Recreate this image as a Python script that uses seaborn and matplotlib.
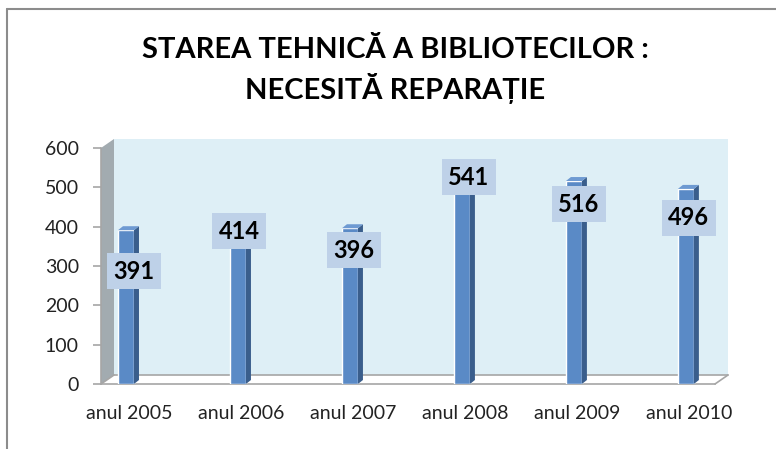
import numpy as np
import pandas as pd
import matplotlib
matplotlib.use('Agg')
import matplotlib.pyplot as plt
from matplotlib.patches import Polygon, Rectangle
from matplotlib.lines import Line2D
import seaborn as sns

# data
years = ['anul 2005', 'anul 2006', 'anul 2007', 'anul 2008', 'anul 2009', 'anul 2010']
values = [391, 414, 396, 541, 516, 496]
# how far (pixels) each value box sits below its bar top, as placed in the original
label_drop = [41, 10, 22, 6, 23, 29]
label_shift = [8, 1, 4, 7, 5, 3]

data = pd.DataFrame({'an': years, 'biblioteci': values})

sns.set_style('white')
plt.rcParams['font.family'] = ['Lato', 'DejaVu Sans']

fig = plt.figure(figsize=(7.76, 4.49), dpi=100)
W, H = 776, 449
# front plane of the 3D box
ax = fig.add_axes([101 / W, (H - 384) / H, 614 / W, 236 / H])
ax.set_facecolor('none')

front = '#5A8AC6'
side = '#3A5E8C'
top = '#6E9AD2'
grey = '#A6A6A6'

sns.barplot(data=data, x='an', y='biblioteci', color=front, width=0.143,
            saturation=1, ax=ax, zorder=3)

ax.set_xlim(-0.223, 5.26)
ax.set_ylim(0, 600)
ax.set_yticks(range(0, 601, 100))
ax.set_xlabel('')
ax.set_ylabel('')

# depth of the box, in axes fraction
dpx, dpy = 13, 9
ddx, ddy = dpx / 614, dpy / 236
wall = Rectangle((ddx, ddy), 1, 1, transform=ax.transAxes, facecolor='#DEEFF6',
                 edgecolor='none', zorder=0.2, clip_on=False)
ax.add_patch(wall)
left_wall = Polygon([(0, 0), (0, 1), (ddx, 1 + ddy), (ddx, ddy)], closed=True,
                    transform=ax.transAxes, facecolor='#A2ABB0', edgecolor='none',
                    zorder=0.3, clip_on=False)
ax.add_patch(left_wall)
for xs, ys in [([ddx, 1 + ddx], [ddy, ddy]), ([1, 1 + ddx], [0, ddy]), ([0, ddx], [0, ddy])]:
    ax.add_line(Line2D(xs, ys, transform=ax.transAxes, color=grey, lw=1.2,
                       zorder=0.4, clip_on=False))

# 3D sides and caps of the bars
inv = ax.transData.inverted()
origin = ax.transData.transform((0, 0))
sx, sy = inv.transform(origin + np.array([5, 4]))
for p in list(ax.patches):
    if p in (wall, left_wall):
        continue
    x0, w, h = p.get_x(), p.get_width(), p.get_height()
    x1 = x0 + w
    ax.add_patch(Polygon([(x1, 0), (x1, h), (x1 + sx, h + sy), (x1 + sx, sy)],
                         closed=True, facecolor=side, edgecolor='none', zorder=3))
    ax.add_patch(Polygon([(x0, h), (x1, h), (x1 + sx, h + sy), (x0 + sx, h + sy)],
                         closed=True, facecolor=top, edgecolor='none', zorder=3))

# value boxes
for i, v in enumerate(values):
    ax.annotate(str(v), xy=(i, v), xytext=(label_shift[i], -label_drop[i]),
                textcoords='offset pixels', ha='center', va='center',
                fontsize=17, fontweight='bold', color='black', zorder=5,
                bbox=dict(boxstyle='square,pad=0.28', facecolor='#BED1E8', edgecolor='none'))

# axes styling
for s in ['top', 'right']:
    ax.spines[s].set_visible(False)
for s in ['left', 'bottom']:
    ax.spines[s].set_color(grey)
    ax.spines[s].set_linewidth(1.2)
ax.set_xticks(np.arange(len(years)) + 0.03)
ax.set_xticklabels(years)
ax.set_xticks(np.linspace(-0.223, 5.26, 12), minor=True)
ax.tick_params(axis='x', which='major', length=0, pad=15, labelsize=14, labelcolor='#222222')
ax.tick_params(axis='x', which='minor', length=6, color=grey, width=1.2, direction='out')
ax.tick_params(axis='y', length=6, color=grey, width=1.2, direction='out', pad=10,
               labelsize=14, labelcolor='#222222', left=True)

fig.text(395 / W, 1 - 50 / H, 'STAREA TEHNICĂ A BIBLIOTECILOR :', ha='center', va='center',
         fontsize=21, fontweight='bold', color='black')
fig.text(395 / W, 1 - 88 / H, 'NECESITĂ REPARAȚIE', ha='center', va='center',
         fontsize=21, fontweight='bold', color='black')

# chart border (top and left)
fig.add_artist(Line2D([7 / W, 1], [1 - 9 / H, 1 - 9 / H], transform=fig.transFigure,
                      color='#8C8C8C', lw=1.5))
fig.add_artist(Line2D([7 / W, 7 / W], [0, 1 - 9 / H], transform=fig.transFigure,
                      color='#8C8C8C', lw=1.5))

fig.savefig('out.png', dpi=100, facecolor='white')
